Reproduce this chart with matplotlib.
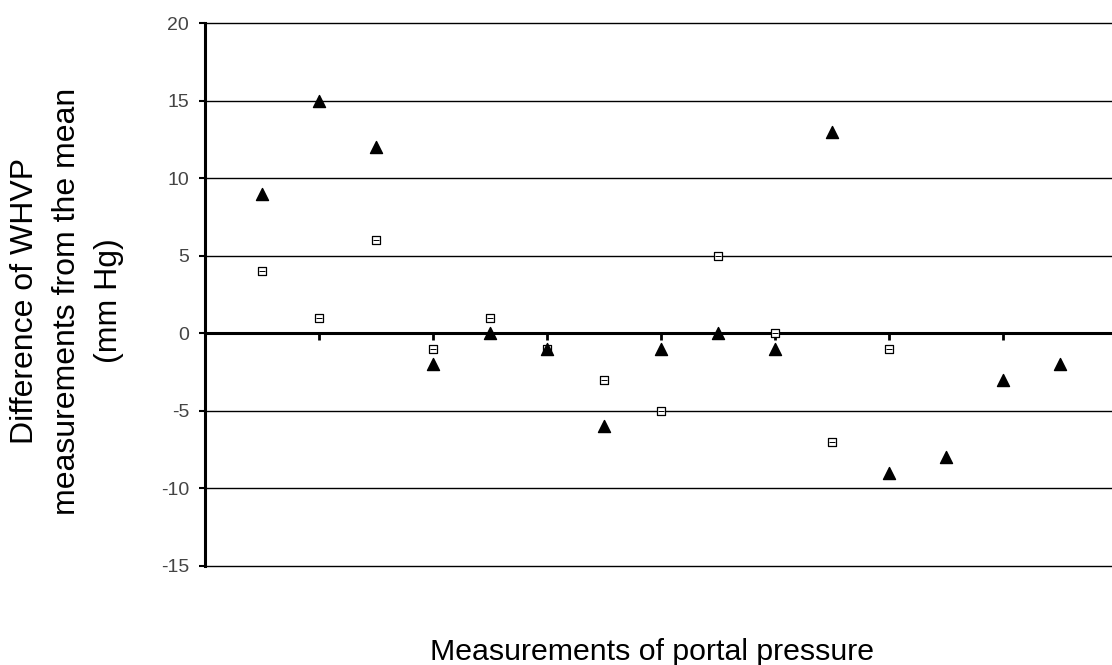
import matplotlib
matplotlib.use("Agg")
import matplotlib.pyplot as plt

plt.rcParams['font.family'] = ['Liberation Sans', 'DejaVu Sans']
plt.rcParams['axes.unicode_minus'] = False

tri_x = [1, 2, 3, 4, 5, 6, 7, 8, 9, 10, 11, 12, 13, 14, 15]
tri_y = [9, 15, 12, -2, 0, -1, -6, -1, 0, -1, 13, -9, -8, -3, -2]
sq_x = [1, 2, 3, 4, 5, 6, 7, 8, 9, 10, 11, 12]
sq_y = [4, 1, 6, -1, 1, -1, -3, -5, 5, 0, -7, -1]
y_ticks = [-15, -10, -5, 0, 5, 10, 15, 20]
x_ticks = [2, 4, 6, 8, 10, 12, 14]

W, H = 1112, 665
fig = plt.figure(figsize=(W / 100, H / 100), dpi=100)
left, right, top, bottom = 205, 1117, 23, 566
ax = fig.add_axes([left / W, 1 - bottom / H, (right - left) / W, (bottom - top) / H])

ax.set_xlim(0, 16)
ax.set_ylim(-15, 20)

for yt in y_ticks:
    if yt != 0:
        ax.axhline(yt, color='black', lw=1.0, zorder=1, clip_on=False)

# x axis crossing at zero
ax.spines['bottom'].set_position(('data', 0))
ax.spines['bottom'].set_linewidth(2.2)
ax.spines['left'].set_linewidth(2.2)
ax.spines['top'].set_visible(False)
ax.spines['right'].set_visible(False)

ax.set_xticks(x_ticks)
ax.set_xticklabels([])
ax.tick_params(axis='x', direction='out', length=5, width=2)
ax.set_yticks(y_ticks)
ax.tick_params(axis='y', direction='out', length=4.5, width=1.5, labelsize=14,
               labelcolor='#444444', pad=7)

ax.scatter(sq_x, sq_y, marker='s', s=28, facecolor='white', edgecolor='black',
           linewidths=0.9, zorder=3)
ax.scatter(sq_x, sq_y, marker='_', s=20, color='black', linewidths=0.7, zorder=4)
ax.scatter(tri_x, tri_y, marker='^', s=75, color='black', zorder=5)

fig.text(67 / W, 1 - 301 / H, "Difference of WHVP\nmeasurements from the mean\n(mm Hg)",
         ha='center', va='center', rotation=90, fontsize=23, linespacing=1.5)
fig.text(652 / W, 1 - 660 / H, "Measurements of portal pressure",
         ha='center', va='baseline', fontsize=21.8)

fig.savefig("out.png", dpi=100)
